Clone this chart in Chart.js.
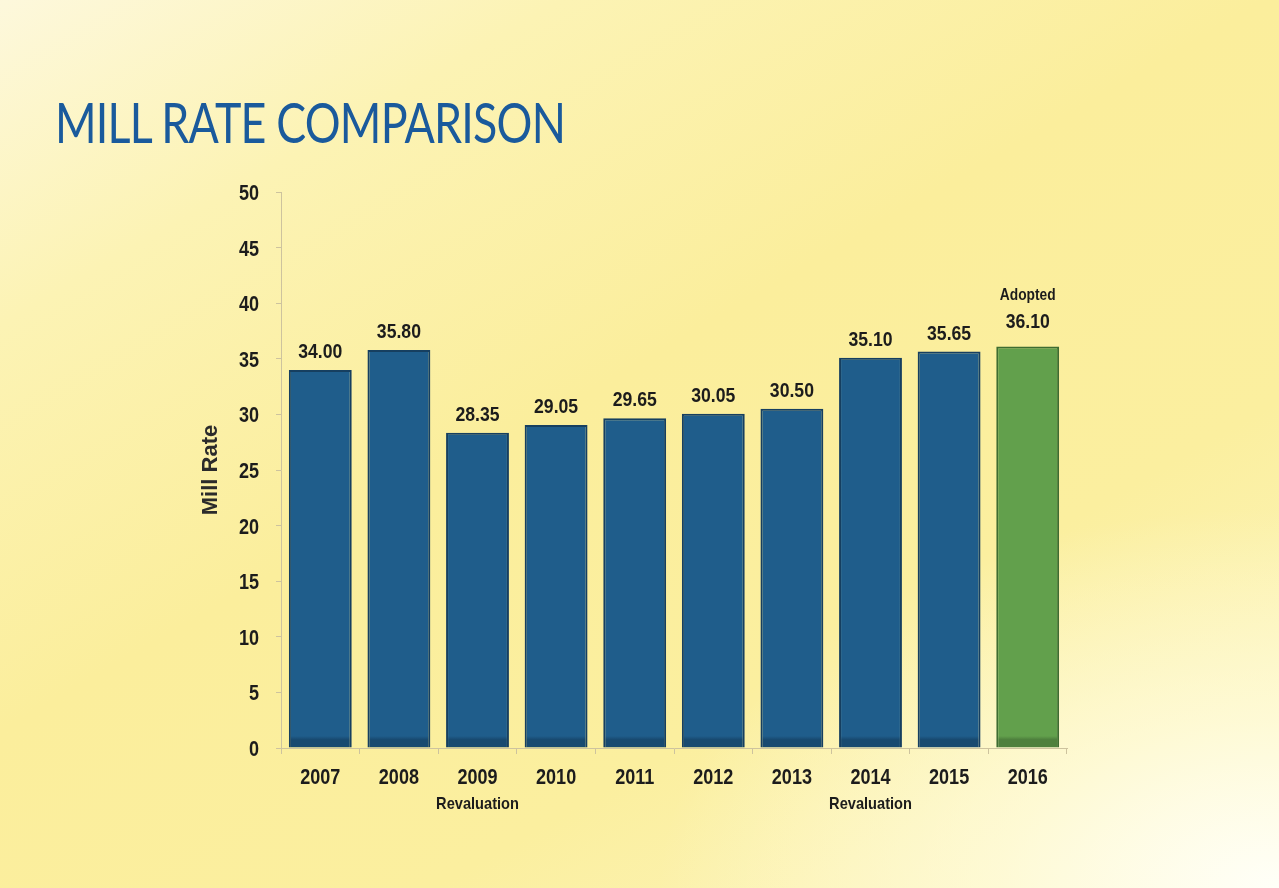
<!DOCTYPE html>
<html>
<head>
<meta charset="utf-8">
<title>Mill Rate Comparison</title>
<script src="https://cdn.jsdelivr.net/npm/chart.js@4/dist/chart.umd.min.js"></script>
<style>
  html, body { margin: 0; padding: 0; }
  body {
    width: 1279px; height: 888px; overflow: hidden; position: relative;
    background:
      radial-gradient(ellipse 620px 380px at 1279px 888px, rgba(255,255,248,1) 0%, rgba(255,253,228,0.65) 45%, rgba(255,250,200,0) 100%),
      linear-gradient(150deg, #fdf8dc 0%, #fcf3b4 20%, #fbee9c 45%, #fbef9f 70%, #fdf6c6 100%);
  }
  h1 {
    position: absolute; left: 55px; top: 88px; margin: 0;
    font: 400 56px 'Lato', 'Open Sans', sans-serif;
    letter-spacing: -1px;
    color: #1a5a9c;
    white-space: nowrap;
    transform: scaleX(0.80);
    transform-origin: left top;
  }
  #wrap { position: absolute; left: 0; top: 0; width: 1279px; height: 888px; }
</style>
</head>
<body>
<h1>MILL RATE COMPARISON</h1>
<div id="wrap"><canvas id="chart"></canvas></div>
<script>
'use strict';

// ── Data ─────────────────────────────────────────────────────────────────────
const years      = ['2007', '2008', '2009', '2010', '2011', '2012', '2013', '2014', '2015', '2016'];
const millRates  = [34.00, 35.80, 28.35, 29.05, 29.65, 30.05, 30.50, 35.10, 35.65, 36.10];
const underNotes = ['', '', 'Revaluation', '', '', '', '', 'Revaluation', '', ''];
const aboveNotes = ['', '', '', '', '', '', '', '', '', 'Adopted'];
const yTicks     = [0, 5, 10, 15, 20, 25, 30, 35, 40, 45, 50];

const SANS = "'Liberation Sans', Arial, sans-serif";
const INK = '#1c1c1c';
const BLUE = ['#1f5d8b', '#184a70'], BLUE_EDGE = '#163f60';
const GREEN = ['#62a04c', '#4e803d'], GREEN_EDGE = '#3e6c31';

// narrow bold text: Arial squeezed horizontally, Arial Narrow is not around
function narrowText(ctx, text, x, y, size, sx) {
  ctx.save();
  ctx.font = 'bold ' + size + 'px ' + SANS;
  ctx.translate(x, y);
  ctx.scale(sx, 1);
  ctx.fillText(text, 0, 0);
  ctx.restore();
}

// bar fill with a darker strip along the base
function barFill(c) {
  const area = c.chart.chartArea;
  const pair = c.dataIndex === years.length - 1 ? GREEN : BLUE;
  if (!area) return pair[0];
  const g = c.chart.ctx.createLinearGradient(0, area.bottom - 12, 0, area.bottom);
  g.addColorStop(0, pair[0]);
  g.addColorStop(0.3, pair[1]);
  g.addColorStop(1, pair[1]);
  return g;
}

// ── Tick labels, value labels and notes ──────────────────────────────────────
const annotate = {
  id: 'annotate',
  afterDraw(chart) {
    const ctx = chart.ctx;
    const meta = chart.getDatasetMeta(0);
    const x = chart.scales.x, y = chart.scales.y;
    ctx.save();
    ctx.fillStyle = INK;
    ctx.textBaseline = 'alphabetic';

    // y tick labels, right aligned left of the axis
    ctx.textAlign = 'right';
    yTicks.forEach(v => narrowText(ctx, String(v), y.right - 22, y.getPixelForValue(v) + 8, 22, 0.82));

    ctx.textAlign = 'center';
    years.forEach((yr, i) => {
      const cx = x.getPixelForValue(i);
      narrowText(ctx, yr, cx, x.top + 36, 22, 0.82);
      if (underNotes[i]) narrowText(ctx, underNotes[i], cx, x.top + 61, 17, 0.86);
    });

    meta.data.forEach((bar, i) => {
      const gap = aboveNotes[i] ? 19 : 12;
      narrowText(ctx, millRates[i].toFixed(2), bar.x, bar.y - gap, 21, 0.84);
      if (aboveNotes[i]) narrowText(ctx, aboveNotes[i], bar.x, bar.y - 47, 16, 0.86);
    });
    ctx.restore();
  }
};

// ── Chart ────────────────────────────────────────────────────────────────────
const ctx = document.getElementById('chart').getContext('2d');
new Chart(ctx, {
  type: 'bar',
  data: {
    labels: years,
    datasets: [{
      data: millRates,
      backgroundColor: barFill,
      borderColor: years.map((y, i) => i === years.length - 1 ? GREEN_EDGE : BLUE_EDGE),
      borderWidth: 2,
      barPercentage: 0.8,
      categoryPercentage: 1.0,
    }],
  },
  options: {
    responsive: true,
    maintainAspectRatio: false,
    animation: false,
    layout: { padding: { left: 190, right: 212, top: 192, bottom: 86 } },
    plugins: {
      legend: { display: false },
      tooltip: { enabled: false },
    },
    scales: {
      x: {
        offset: true,
        grid: { display: true, drawOnChartArea: false, drawTicks: true, tickLength: 6, color: '#cdc39e', offset: true },
        border: { color: '#cdc39e' },
        ticks: { display: false },
        afterFit(scale) { scale.height = 54; },
      },
      y: {
        min: 0,
        max: 50,
        afterBuildTicks(scale) { scale.ticks = yTicks.map(v => ({ value: v })); },
        grid: { display: true, drawOnChartArea: false, drawTicks: true, tickLength: 5, color: '#cdc39e' },
        border: { color: '#cdc39e' },
        ticks: { display: false },
        title: {
          display: true,
          text: 'Mill Rate',
          color: '#2b2b2b',
          font: { family: SANS, size: 22, weight: 'bold' },
          padding: { top: 8, bottom: 0 },
        },
        afterFit(scale) { scale.width = 91; },
      },
    },
  },
  plugins: [annotate],
});
</script>
</body>
</html>
